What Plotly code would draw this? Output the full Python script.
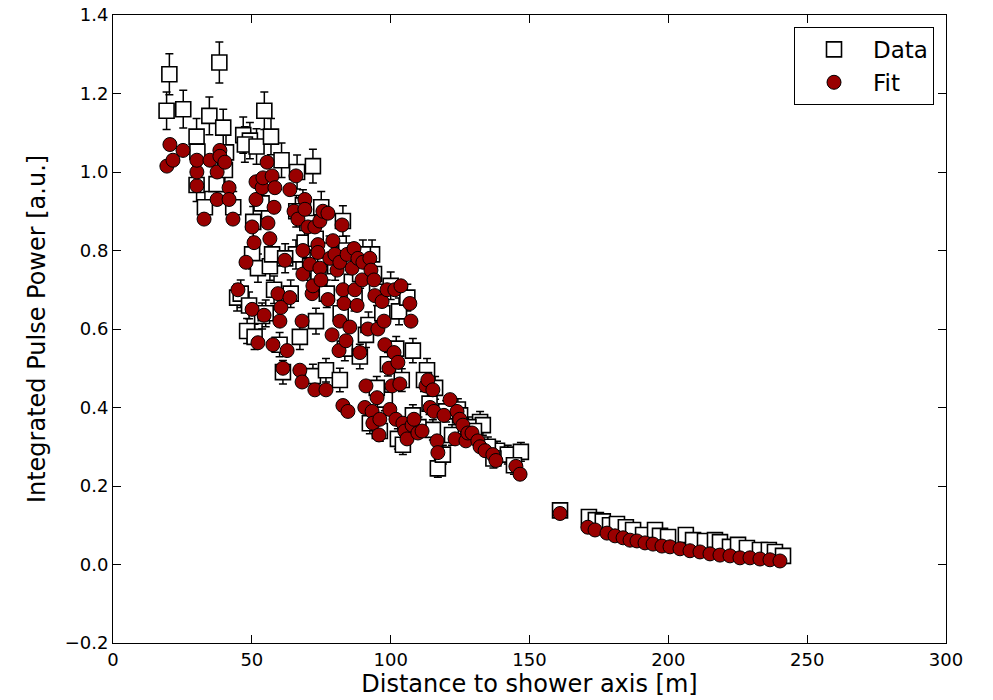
import plotly.graph_objects as go

# Data (squares with error bars)
data_x = [20.3, 19.3, 25.3, 30.1, 30.4, 30.1, 34.7, 38.3, 39.7, 40.7, 37.3, 40.3, 43.3, 33.1,
          46.9, 49.3, 47.5, 51.7, 54.5, 56.9, 60.7, 53.5, 50.5,
          44.7, 48.3, 50.1, 52.2, 53.7, 56.5, 57.3, 61.2, 66.3, 68.4, 65.9, 67.3, 72.0, 73.1, 72.0,
          76.7, 81.7, 82.8, 83.5, 88.9, 91.1, 93.3, 92.5, 95.1, 96.1, 97.9, 103.0, 102.6, 104.4,
          108.0, 113.1, 115.2, 117.0, 118.8, 122.1, 124.2, 127.1, 132.2, 133.2, 138.3, 142.2,
          146.9, 144.4,
          62.0, 64.0, 66.0, 69.0, 70.0, 71.0, 73.0, 74.0, 75.0, 77.0, 78.0, 80.0, 82.0, 84.0,
          86.0, 87.0, 89.0, 90.0, 92.0, 94.0, 95.0, 97.0, 99.0, 100.0, 102.0, 104.0, 106.0,
          108.0, 110.0, 112.0, 114.0, 116.0, 120.0, 125.0, 128.0, 130.0, 135.0, 137.0,
          46.0, 49.0, 51.0, 55.0, 58.0, 60.0,
          161.0, 171.4, 173.9, 176.4, 179.0, 181.5, 184.7, 187.3, 190.9, 195.2, 197.0, 199.9,
          206.3, 208.9, 213.2, 216.8, 218.6, 222.2, 225.1, 228.3, 233.0, 236.2, 238.4, 241.3]
data_y = [1.249, 1.156, 1.160, 1.090, 1.052, 0.967, 1.143, 1.279, 1.113, 1.050, 0.969, 1.005,
          0.910, 0.910, 1.094, 1.080, 1.070, 1.065, 1.156, 1.090, 1.030, 0.920, 0.873,
          0.680, 0.595, 0.790, 0.755, 0.633, 0.760, 0.790, 0.490, 1.000, 0.915, 0.790, 0.580,
          1.015, 0.620, 0.480, 0.495, 0.470, 0.875, 0.550, 0.530, 0.585, 0.790, 0.360, 0.695,
          0.340, 0.420, 0.645, 0.320, 0.305, 0.545, 0.495, 0.343, 0.245, 0.280, 0.330, 0.395,
          0.343, 0.363, 0.355, 0.290, 0.280, 0.287, 0.253,
          0.780, 0.690, 0.900, 0.820, 0.870, 0.760, 0.830, 0.730, 0.910, 0.690, 0.800, 0.760,
          0.640, 0.800, 0.720, 0.680, 0.740, 0.790, 0.610, 0.740, 0.450, 0.640, 0.510, 0.710,
          0.550, 0.470, 0.680, 0.380, 0.350, 0.470, 0.410, 0.450, 0.390, 0.380, 0.350, 0.340,
          0.300, 0.270,
          0.690, 0.660, 0.580, 0.640, 0.700, 0.560,
          0.138, 0.121, 0.113, 0.110, 0.100, 0.103, 0.095, 0.088, 0.075, 0.088, 0.073, 0.070,
          0.075, 0.062, 0.060, 0.062, 0.057, 0.045, 0.050, 0.042, 0.037, 0.037, 0.032, 0.022]
data_err = [0.052, 0.048, 0.048, 0.046, 0.045, 0.042, 0.048, 0.052, 0.047, 0.045, 0.042, 0.043,
            0.040, 0.040, 0.046, 0.046, 0.045, 0.045, 0.048, 0.046, 0.044, 0.040, 0.039,
            0.034, 0.032, 0.037, 0.036, 0.033, 0.036, 0.037, 0.030, 0.043, 0.040, 0.037, 0.032,
            0.043, 0.033, 0.030, 0.030, 0.030, 0.039, 0.031, 0.031, 0.032, 0.037, 0.027, 0.035,
            0.026, 0.028, 0.034, 0.026, 0.025, 0.031, 0.030, 0.026, 0.023, 0.024, 0.026, 0.027,
            0.026, 0.027, 0.026, 0.024, 0.024, 0.024, 0.023,
            0.037, 0.035, 0.040, 0.038, 0.039, 0.036, 0.038, 0.036, 0.040, 0.035, 0.037, 0.036,
            0.033, 0.037, 0.035, 0.034, 0.036, 0.037, 0.033, 0.036, 0.029, 0.033, 0.030, 0.035,
            0.031, 0.029, 0.034, 0.027, 0.026, 0.029, 0.028, 0.029, 0.027, 0.027, 0.026, 0.026,
            0.025, 0.024,
            0.035, 0.034, 0.032, 0.034, 0.035, 0.031,
            0.018, 0.016, 0.016, 0.016, 0.015, 0.015, 0.015, 0.015, 0.014, 0.015, 0.014, 0.014,
            0.014, 0.013, 0.013, 0.013, 0.013, 0.012, 0.012, 0.012, 0.012, 0.012, 0.011, 0.011]

# Fit (circles)
fit_x = [19.4, 20.5, 21.6, 25.2, 30.2, 30.2, 30.2, 32.8, 34.9, 37.5, 37.5, 38.5, 38.5, 40.3,
         41.8, 41.8, 43.2, 45.0, 47.9, 50.1, 50.1, 50.8, 51.5, 51.5, 52.2, 53.7, 54.0, 54.4,
         55.5, 55.8, 56.5, 57.3, 57.6, 58.0, 58.3, 59.4, 60.1, 60.5, 61.2, 61.9, 62.7, 63.7,
         63.7, 65.2, 65.9, 66.6, 67.3, 68.1, 68.1, 68.4, 68.4, 69.1, 69.1, 70.2, 70.9, 71.7,
         72.0, 72.7, 72.7, 73.8, 73.8, 74.5, 74.5, 74.9, 75.6, 76.7, 77.4, 77.4, 78.1, 78.9,
         79.2, 79.9, 80.7, 81.4, 81.7, 81.7, 82.5, 82.8, 82.8, 83.2, 83.9, 84.3, 84.6, 85.3,
         86.1, 86.8, 87.1, 87.9, 88.2, 88.9, 89.7, 90.0, 90.7, 91.1, 91.8, 92.5, 92.9, 93.3,
         93.6, 94.0, 94.3, 95.1, 95.4, 95.8, 96.1, 96.9, 97.6, 97.9, 98.7, 99.4, 99.7, 100.5,
         101.2, 101.5, 101.9, 102.6, 103.3, 103.7, 104.4, 105.1, 105.9, 106.9, 107.3, 107.7,
         108.4, 109.8, 111.3, 112.7, 113.4, 114.2, 115.2, 115.6, 116.7, 117.0, 119.2, 121.4,
         123.2, 123.9, 124.9, 126.0, 127.1, 127.8, 129.3, 131.4, 132.2, 134.0, 136.8, 137.9,
         145.1, 146.6,
         161.0, 171.0, 173.6, 177.9, 180.8, 183.7, 186.2, 188.7, 191.6, 194.5, 197.7, 200.6,
         204.2, 207.8, 211.4, 215.0, 218.6, 222.2, 225.8, 229.4, 233.0, 236.6, 240.2]
fit_y = [1.015, 1.070, 1.030, 1.055, 0.965, 1.000, 1.030, 0.880, 1.030, 0.930, 1.000, 1.055,
         1.040, 1.025, 0.960, 0.930, 0.880, 0.700, 0.770, 0.650, 0.860, 0.820, 0.975, 0.930,
         0.565, 0.960, 0.985, 0.635, 1.025, 0.870, 0.830, 0.990, 0.560, 0.910, 0.960, 0.690,
         0.620, 0.655, 0.500, 0.775, 0.545, 0.680, 0.955, 0.900, 0.990, 0.880, 0.495, 0.620,
         0.465, 0.800, 0.740, 0.930, 0.905, 0.860, 0.765, 0.690, 0.710, 0.445, 0.860, 0.815,
         0.795, 0.755, 0.875, 0.725, 0.900, 0.445, 0.895, 0.675, 0.780, 0.585, 0.825, 0.790,
         0.750, 0.545, 0.620, 0.770, 0.865, 0.405, 0.700, 0.665, 0.570, 0.790, 0.390, 0.605,
         0.755, 0.805, 0.700, 0.660, 0.780, 0.540, 0.725, 0.770, 0.400, 0.455, 0.600, 0.780,
         0.750, 0.390, 0.360, 0.725, 0.685, 0.425, 0.600, 0.330, 0.370, 0.670, 0.620, 0.560,
         0.700, 0.500, 0.395, 0.455, 0.540, 0.700, 0.370, 0.515, 0.460, 0.710, 0.360, 0.340,
         0.320, 0.665, 0.620, 0.355, 0.370, 0.335, 0.340, 0.455, 0.470, 0.400, 0.445, 0.390,
         0.315, 0.285, 0.380, 0.420, 0.320, 0.390, 0.370, 0.355, 0.315, 0.335, 0.335, 0.315,
         0.300, 0.290, 0.280, 0.265, 0.250, 0.230,
         0.130, 0.095, 0.088, 0.080, 0.073, 0.068, 0.062, 0.060, 0.055, 0.052, 0.047, 0.045,
         0.040, 0.035, 0.032, 0.027, 0.024, 0.022, 0.017, 0.017, 0.014, 0.012, 0.009]

x_ticks = [0, 50, 100, 150, 200, 250, 300]
y_ticks = [-0.2, 0.0, 0.2, 0.4, 0.6, 0.8, 1.0, 1.2, 1.4]

fig = go.Figure()
fig.add_trace(go.Scatter(
    x=data_x, y=data_y, mode="markers", name="Data",
    marker=dict(symbol="square", size=15, color="white",
                line=dict(color="black", width=1.6)),
    error_y=dict(type="data", array=data_err, visible=True,
                 color="black", thickness=1.5, width=4),
))
fig.add_trace(go.Scatter(
    x=fit_x, y=fit_y, mode="markers", name="Fit",
    marker=dict(symbol="circle", size=14, color="#990000",
                line=dict(color="black", width=1)),
))

axis_common = dict(
    showline=True, linecolor="black", linewidth=1, mirror="ticks",
    ticks="inside", ticklen=8, tickwidth=1, tickcolor="black",
    showgrid=False, zeroline=False, automargin=False,
    tickfont=dict(family="DejaVu Sans", size=18, color="black"),
)

fig.update_xaxes(range=[0, 300], tickvals=x_ticks,
                 ticktext=[str(v) for v in x_ticks],
                 title=dict(text="Distance to shower axis [m]",
                            font=dict(family="DejaVu Sans", size=24, color="black"),
                            standoff=2),
                 **axis_common)
fig.update_yaxes(range=[-0.2, 1.4], tickvals=y_ticks,
                 ticktext=[("\u2212" if v < 0 else "") + f"{abs(v):.1f}" for v in y_ticks],
                 title=dict(text="Integrated Pulse Power [a.u.]",
                            font=dict(family="DejaVu Sans", size=24, color="black"),
                            standoff=12),
                 **axis_common)

fig.update_layout(
    width=993, height=700,
    margin=dict(l=113, r=47, t=15, b=57),
    plot_bgcolor="white", paper_bgcolor="white",
    font=dict(family="DejaVu Sans", color="black"),
    legend=dict(x=0.9856, y=0.981, xanchor="right", yanchor="top",
                bgcolor="white", bordercolor="black", borderwidth=1,
                font=dict(family="DejaVu Sans", size=23, color="black"),
                itemwidth=68, tracegroupgap=4),
    showlegend=True,
)

fig.write_html("out.html")
